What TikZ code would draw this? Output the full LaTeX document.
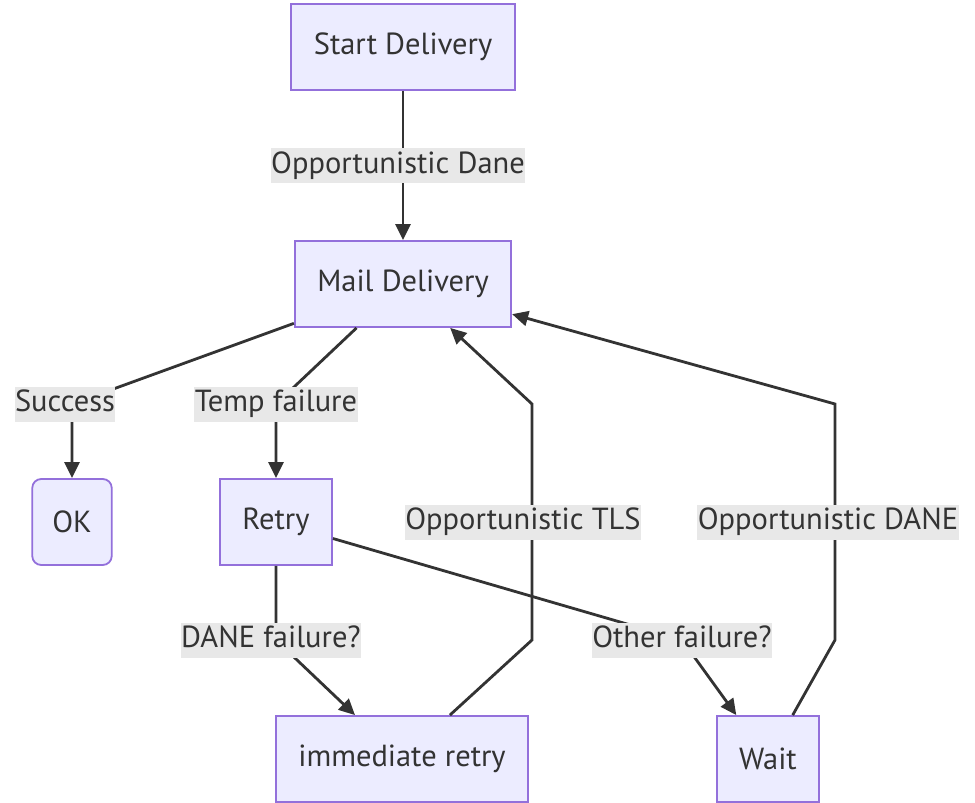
\documentclass[tikz,border=0pt]{standalone}
\usepackage{fontspec}
\setmainfont{PT Sans}
\usepackage{xcolor}
\usetikzlibrary{arrows.meta,positioning}

\definecolor{boxfill}{HTML}{ECECFF}
\definecolor{boxline}{HTML}{9370DB}
\definecolor{edgeline}{HTML}{333333}
\definecolor{lblfill}{HTML}{E8E8E8}

\begin{document}
\begin{tikzpicture}[x=1pt, y=-1pt,
    box/.style={draw=boxline, line width=1.8pt, fill=boxfill, text=edgeline, minimum height=86pt, inner xsep=22.5pt, font=\fontsize{30.5}{36}\selectfont},
    okbox/.style={box, inner xsep=20pt, rounded corners=9pt},
    lbl/.style={fill=lblfill, text=edgeline, inner xsep=0.5pt, inner ysep=3pt, text height=22pt, text depth=7pt, font=\fontsize{30.5}{36}\selectfont},
    flow/.style={draw=edgeline, line width=2.8pt, -{Triangle[length=16pt,width=15pt]}}]
    \useasboundingbox (0,0) rectangle (975,803);

    \node[box] (start) at (403,47) {Start Delivery};
    \node[box] (mail) at (403,284) {Mail Delivery};
    \node[okbox] (ok) at (72,522) {OK};
    \node[box] (retry) at (276,522) {Retry};
    \node[box] (immretry) at (402,759) {immediate retry};
    \node[box] (wait) at (768,759) {Wait};

    \draw[flow] (start) -- node[lbl, xshift=-5pt] (ldane) {Opportunistic Dane} (mail);
    \draw[flow] (mail) -- (72,404) node[lbl, xshift=-7pt] (lsuccess) {Success} -- (ok);
    \draw[flow] (mail) -- (276,404) node[lbl] (ltemp) {Temp failure} -- (retry);
    \draw[flow] (retry) -- (276,640) node[lbl, xshift=-5pt] (ldanefail) {DANE failure?} -- ([xshift=-47pt]immretry.north);
    \draw[flow] (retry) -- (682,640) node[lbl] (lother) {Other failure?} -- (wait);
    \draw[flow] (immretry) -- (532,640) -- node[lbl, xshift=-9pt] (ltls) {Opportunistic TLS} (532,404) -- (mail);
    \draw[flow] (wait) -- (835,640) -- node[lbl, xshift=-7pt] (ldaneopp) {Opportunistic DANE} (835,404) -- (mail);
\end{tikzpicture}
\end{document}
